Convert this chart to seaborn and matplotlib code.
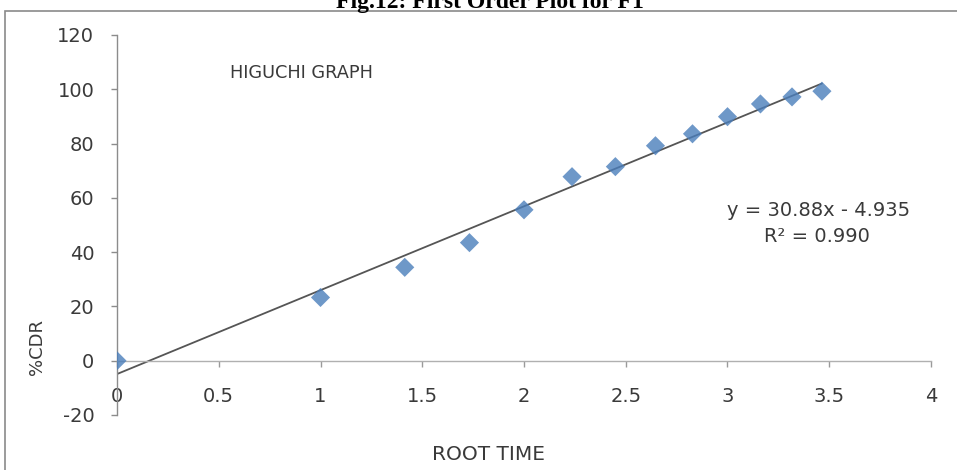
import matplotlib
matplotlib.use("Agg")
import matplotlib.pyplot as plt
import seaborn as sns
import numpy as np
import pandas as pd
from matplotlib.patches import Rectangle

sns.set_theme(style="white")
plt.rcParams['font.family'] = ['DejaVu Sans']

# Data
root_time = [0, 1, 1.414, 1.732, 2, 2.236, 2.449, 2.646, 2.828, 3, 3.162, 3.317, 3.464]
cdr = [0, 23.3, 34.4, 43.5, 55.6, 67.8, 71.5, 79.2, 83.6, 89.9, 94.6, 97.2, 99.3]
x_ticks = [0, 0.5, 1, 1.5, 2, 2.5, 3, 3.5, 4]
x_tick_labels = ["0", "0.5", "1", "1.5", "2", "2.5", "3", "3.5", "4"]
y_ticks = [-20, 0, 20, 40, 60, 80, 100, 120]
y_tick_labels = ["-20", "0", "20", "40", "60", "80", "100", "120"]

df = pd.DataFrame({"ROOT TIME": root_time, "%CDR": cdr})

W, H = 957, 470
TXT = "#3a3a3a"
fig = plt.figure(figsize=(W / 100, H / 100), dpi=100)
ax = fig.add_axes([117 / W, 1 - 415 / H, (931 - 117) / W, (415 - 35) / H])

sns.regplot(data=df, x="ROOT TIME", y="%CDR", ax=ax, ci=None, marker="D",
            scatter_kws=dict(s=95, color="#4A7EBB", edgecolors="none", zorder=3),
            line_kws=dict(color="#555555", lw=1.3, zorder=2))

ax.set_xlim(0, 4)
ax.set_ylim(-20, 120)
ax.set_xticks(x_ticks)
ax.set_xticklabels(x_tick_labels)
ax.set_yticks(y_ticks)
ax.set_yticklabels(y_tick_labels)

for s in ["top", "right"]:
    ax.spines[s].set_visible(False)
ax.spines["left"].set_color("#8c8c8c")
ax.spines["left"].set_linewidth(1.0)
ax.spines["bottom"].set_position(("data", 0))
ax.spines["bottom"].set_color("#b0b0b0")
ax.spines["bottom"].set_linewidth(1.0)

ax.tick_params(axis="x", direction="out", length=4, width=1, color="#9a9a9a",
               pad=15, labelsize=14, labelcolor=TXT, bottom=True)
ax.tick_params(axis="y", direction="out", length=4.3, width=1, color="#8c8c8c",
               pad=12, labelsize=14, labelcolor=TXT, left=True)

ax.set_xlabel("")
ax.set_ylabel("")
fig.text(489 / W, 1 - 455 / H, "ROOT TIME", ha="center", va="center",
         fontsize=14.5, color=TXT)
fig.text(37 / W, 1 - 347 / H, "%CDR", ha="center", va="center", rotation=90,
         fontsize=13, color=TXT)

fig.text(230 / W, 1 - 73 / H, "HIGUCHI GRAPH", ha="left", va="center",
         fontsize=12.8, color=TXT)
fig.text(819 / W, 1 - 210 / H, "y = 30.88x - 4.935", ha="center", va="center",
         fontsize=14, color=TXT)
fig.text(817 / W, 1 - 237 / H, "R\u00b2 = 0.990", ha="center", va="center",
         fontsize=14, color=TXT)

# Title (cut off at top in the reference)
fig.text(490 / W, 1 - 8 / H, "Fig.12: First Order Plot for F1", ha="center",
         va="baseline", fontsize=17, fontweight="bold", family="Liberation Serif",
         color="black")

# Outer chart border
fig.patches.append(Rectangle((5 / W, -0.1), 1.2, 1 - 11.5 / H + 0.1,
                             transform=fig.transFigure, fill=False,
                             edgecolor="#8a8a8a", lw=1.2))

fig.savefig("out.png", dpi=100)
